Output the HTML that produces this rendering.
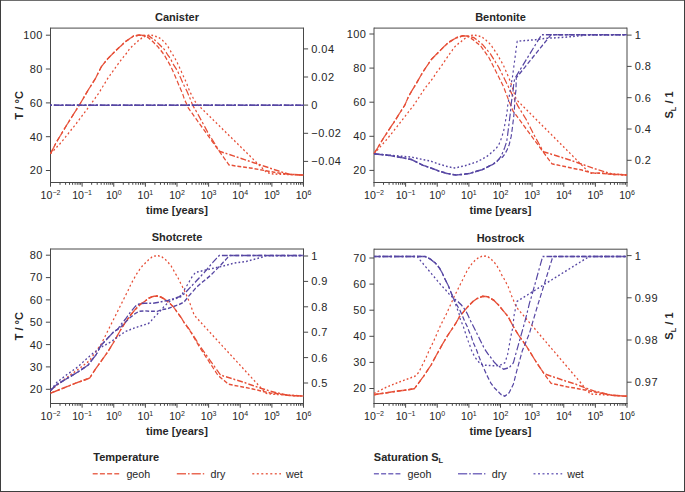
<!DOCTYPE html>
<html><head><meta charset="utf-8"><style>
html,body{margin:0;padding:0;background:#fff;width:685px;height:492px;overflow:hidden}
svg{font-family:"Liberation Sans",sans-serif}
</style></head><body>
<svg width="685" height="492" viewBox="0 0 685 492" style="position:absolute;left:0;top:0">
<rect x="0" y="0" width="685" height="492" fill="#fff"/>
<path d="M0.5 0V492M684.5 0V492M0 491.5H685" stroke="#3e3e3e" stroke-width="1" fill="none"/>
<path d="M1 0.5H684" stroke="#6e6e6e" stroke-width="1" fill="none"/>
<text x="177.0" y="20.5" font-size="11" font-weight="bold" text-anchor="middle" fill="#262626">Canister</text>
<path d="M50.5 28.1H303.5M50.5 27.6V183.0M303.5 27.6V183.0M50.0 182.5H304.0" fill="none" stroke="#484848" stroke-width="1"/>
<path d="M50.50 182.5v4.2M60.02 182.5v2.3M65.59 182.5v2.3M69.54 182.5v2.3M72.60 182.5v2.3M75.11 182.5v2.3M77.23 182.5v2.3M79.06 182.5v2.3M80.68 182.5v2.3M82.12 182.5v4.2M91.65 182.5v2.3M97.21 182.5v2.3M101.17 182.5v2.3M104.23 182.5v2.3M106.73 182.5v2.3M108.85 182.5v2.3M110.69 182.5v2.3M112.30 182.5v2.3M113.75 182.5v4.2M123.27 182.5v2.3M128.84 182.5v2.3M132.79 182.5v2.3M135.85 182.5v2.3M138.36 182.5v2.3M140.48 182.5v2.3M142.31 182.5v2.3M143.93 182.5v2.3M145.38 182.5v4.2M154.90 182.5v2.3M160.46 182.5v2.3M164.42 182.5v2.3M167.48 182.5v2.3M169.98 182.5v2.3M172.10 182.5v2.3M173.94 182.5v2.3M175.55 182.5v2.3M177.00 182.5v4.2M186.52 182.5v2.3M192.09 182.5v2.3M196.04 182.5v2.3M199.10 182.5v2.3M201.61 182.5v2.3M203.73 182.5v2.3M205.56 182.5v2.3M207.18 182.5v2.3M208.62 182.5v4.2M218.15 182.5v2.3M223.71 182.5v2.3M227.67 182.5v2.3M230.73 182.5v2.3M233.23 182.5v2.3M235.35 182.5v2.3M237.19 182.5v2.3M238.80 182.5v2.3M240.25 182.5v4.2M249.77 182.5v2.3M255.34 182.5v2.3M259.29 182.5v2.3M262.35 182.5v2.3M264.86 182.5v2.3M266.98 182.5v2.3M268.81 182.5v2.3M270.43 182.5v2.3M271.88 182.5v4.2M281.40 182.5v2.3M286.96 182.5v2.3M290.92 182.5v2.3M293.98 182.5v2.3M296.48 182.5v2.3M298.60 182.5v2.3M300.44 182.5v2.3M302.05 182.5v2.3M303.50 182.5v4.2" stroke="#484848" stroke-width="1" fill="none"/>
<text x="50.5" y="198.9" font-size="10.6" text-anchor="middle" fill="#262626">10<tspan font-size="7" dy="-4">−2</tspan></text>
<text x="82.1" y="198.9" font-size="10.6" text-anchor="middle" fill="#262626">10<tspan font-size="7" dy="-4">−1</tspan></text>
<text x="113.8" y="198.9" font-size="10.6" text-anchor="middle" fill="#262626">10<tspan font-size="7" dy="-4">0</tspan></text>
<text x="145.4" y="198.9" font-size="10.6" text-anchor="middle" fill="#262626">10<tspan font-size="7" dy="-4">1</tspan></text>
<text x="177.0" y="198.9" font-size="10.6" text-anchor="middle" fill="#262626">10<tspan font-size="7" dy="-4">2</tspan></text>
<text x="208.6" y="198.9" font-size="10.6" text-anchor="middle" fill="#262626">10<tspan font-size="7" dy="-4">3</tspan></text>
<text x="240.2" y="198.9" font-size="10.6" text-anchor="middle" fill="#262626">10<tspan font-size="7" dy="-4">4</tspan></text>
<text x="271.9" y="198.9" font-size="10.6" text-anchor="middle" fill="#262626">10<tspan font-size="7" dy="-4">5</tspan></text>
<text x="303.5" y="198.9" font-size="10.6" text-anchor="middle" fill="#262626">10<tspan font-size="7" dy="-4">6</tspan></text>
<text x="177.0" y="213.6" font-size="11" font-weight="bold" text-anchor="middle" fill="#262626">time [years]</text>
<path d="M45.9 35.2h4.6M45.9 69.0h4.6M45.9 102.9h4.6M45.9 136.7h4.6M45.9 170.5h4.6M303.5 48.9h4.6M303.5 77.0h4.6M303.5 105.1h4.6M303.5 133.3h4.6M303.5 161.4h4.6" stroke="#484848" stroke-width="1" fill="none"/>
<text x="42.9" y="39.1" font-size="11" letter-spacing="0.45" text-anchor="end" fill="#262626">100</text>
<text x="42.9" y="72.9" font-size="11" letter-spacing="0.45" text-anchor="end" fill="#262626">80</text>
<text x="42.9" y="106.8" font-size="11" letter-spacing="0.45" text-anchor="end" fill="#262626">60</text>
<text x="42.9" y="140.6" font-size="11" letter-spacing="0.45" text-anchor="end" fill="#262626">40</text>
<text x="42.9" y="174.4" font-size="11" letter-spacing="0.45" text-anchor="end" fill="#262626">20</text>
<text x="311.3" y="52.8" font-size="11" letter-spacing="0.45" fill="#262626">0.04</text>
<text x="311.3" y="80.9" font-size="11" letter-spacing="0.45" fill="#262626">0.02</text>
<text x="311.3" y="109.0" font-size="11" letter-spacing="0.45" fill="#262626">0</text>
<text x="311.3" y="137.2" font-size="11" letter-spacing="0.45" fill="#262626">−0.02</text>
<text x="311.3" y="165.3" font-size="11" letter-spacing="0.45" fill="#262626">−0.04</text>
<text transform="translate(23.2 105.3) rotate(-90)" font-size="11" font-weight="bold" text-anchor="middle" fill="#262626">T / °C</text>
<text x="500.5" y="20.5" font-size="11" font-weight="bold" text-anchor="middle" fill="#262626">Bentonite</text>
<path d="M374.0 28.1H627.0M374.0 27.6V183.0M627.0 27.6V183.0M373.5 182.5H627.5" fill="none" stroke="#484848" stroke-width="1"/>
<path d="M374.00 182.5v4.2M383.52 182.5v2.3M389.09 182.5v2.3M393.04 182.5v2.3M396.10 182.5v2.3M398.61 182.5v2.3M400.73 182.5v2.3M402.56 182.5v2.3M404.18 182.5v2.3M405.62 182.5v4.2M415.15 182.5v2.3M420.71 182.5v2.3M424.67 182.5v2.3M427.73 182.5v2.3M430.23 182.5v2.3M432.35 182.5v2.3M434.19 182.5v2.3M435.80 182.5v2.3M437.25 182.5v4.2M446.77 182.5v2.3M452.34 182.5v2.3M456.29 182.5v2.3M459.35 182.5v2.3M461.86 182.5v2.3M463.98 182.5v2.3M465.81 182.5v2.3M467.43 182.5v2.3M468.88 182.5v4.2M478.40 182.5v2.3M483.96 182.5v2.3M487.92 182.5v2.3M490.98 182.5v2.3M493.48 182.5v2.3M495.60 182.5v2.3M497.44 182.5v2.3M499.05 182.5v2.3M500.50 182.5v4.2M510.02 182.5v2.3M515.59 182.5v2.3M519.54 182.5v2.3M522.60 182.5v2.3M525.11 182.5v2.3M527.23 182.5v2.3M529.06 182.5v2.3M530.68 182.5v2.3M532.12 182.5v4.2M541.65 182.5v2.3M547.21 182.5v2.3M551.17 182.5v2.3M554.23 182.5v2.3M556.73 182.5v2.3M558.85 182.5v2.3M560.69 182.5v2.3M562.30 182.5v2.3M563.75 182.5v4.2M573.27 182.5v2.3M578.84 182.5v2.3M582.79 182.5v2.3M585.85 182.5v2.3M588.36 182.5v2.3M590.48 182.5v2.3M592.31 182.5v2.3M593.93 182.5v2.3M595.38 182.5v4.2M604.90 182.5v2.3M610.46 182.5v2.3M614.42 182.5v2.3M617.48 182.5v2.3M619.98 182.5v2.3M622.10 182.5v2.3M623.94 182.5v2.3M625.55 182.5v2.3M627.00 182.5v4.2" stroke="#484848" stroke-width="1" fill="none"/>
<text x="374.0" y="198.9" font-size="10.6" text-anchor="middle" fill="#262626">10<tspan font-size="7" dy="-4">−2</tspan></text>
<text x="405.6" y="198.9" font-size="10.6" text-anchor="middle" fill="#262626">10<tspan font-size="7" dy="-4">−1</tspan></text>
<text x="437.2" y="198.9" font-size="10.6" text-anchor="middle" fill="#262626">10<tspan font-size="7" dy="-4">0</tspan></text>
<text x="468.9" y="198.9" font-size="10.6" text-anchor="middle" fill="#262626">10<tspan font-size="7" dy="-4">1</tspan></text>
<text x="500.5" y="198.9" font-size="10.6" text-anchor="middle" fill="#262626">10<tspan font-size="7" dy="-4">2</tspan></text>
<text x="532.1" y="198.9" font-size="10.6" text-anchor="middle" fill="#262626">10<tspan font-size="7" dy="-4">3</tspan></text>
<text x="563.8" y="198.9" font-size="10.6" text-anchor="middle" fill="#262626">10<tspan font-size="7" dy="-4">4</tspan></text>
<text x="595.4" y="198.9" font-size="10.6" text-anchor="middle" fill="#262626">10<tspan font-size="7" dy="-4">5</tspan></text>
<text x="627.0" y="198.9" font-size="10.6" text-anchor="middle" fill="#262626">10<tspan font-size="7" dy="-4">6</tspan></text>
<text x="500.5" y="213.6" font-size="11" font-weight="bold" text-anchor="middle" fill="#262626">time [years]</text>
<path d="M369.4 34.0h4.6M369.4 68.1h4.6M369.4 102.2h4.6M369.4 136.3h4.6M369.4 170.4h4.6M627.0 35.1h4.6M627.0 66.4h4.6M627.0 97.7h4.6M627.0 129.0h4.6M627.0 160.3h4.6" stroke="#484848" stroke-width="1" fill="none"/>
<text x="366.4" y="37.9" font-size="11" letter-spacing="0.45" text-anchor="end" fill="#262626">100</text>
<text x="366.4" y="72.0" font-size="11" letter-spacing="0.45" text-anchor="end" fill="#262626">80</text>
<text x="366.4" y="106.1" font-size="11" letter-spacing="0.45" text-anchor="end" fill="#262626">60</text>
<text x="366.4" y="140.2" font-size="11" letter-spacing="0.45" text-anchor="end" fill="#262626">40</text>
<text x="366.4" y="174.3" font-size="11" letter-spacing="0.45" text-anchor="end" fill="#262626">20</text>
<text x="634.8" y="39.0" font-size="11" letter-spacing="0.45" fill="#262626">1</text>
<text x="634.8" y="70.3" font-size="11" letter-spacing="0.45" fill="#262626">0.8</text>
<text x="634.8" y="101.6" font-size="11" letter-spacing="0.45" fill="#262626">0.6</text>
<text x="634.8" y="132.9" font-size="11" letter-spacing="0.45" fill="#262626">0.4</text>
<text x="634.8" y="164.2" font-size="11" letter-spacing="0.45" fill="#262626">0.2</text>
<text transform="translate(673.2 105.0) rotate(-90)" font-size="11" font-weight="bold" text-anchor="middle" fill="#262626">S<tspan font-size="7.5" dy="2.5">L</tspan><tspan dy="-2.5"> / 1</tspan></text>
<text x="177.0" y="241.4" font-size="11" font-weight="bold" text-anchor="middle" fill="#262626">Shotcrete</text>
<path d="M50.5 249.0H303.5M50.5 248.5V404.0M303.5 248.5V404.0M50.0 403.5H304.0" fill="none" stroke="#484848" stroke-width="1"/>
<path d="M50.50 403.5v4.2M60.02 403.5v2.3M65.59 403.5v2.3M69.54 403.5v2.3M72.60 403.5v2.3M75.11 403.5v2.3M77.23 403.5v2.3M79.06 403.5v2.3M80.68 403.5v2.3M82.12 403.5v4.2M91.65 403.5v2.3M97.21 403.5v2.3M101.17 403.5v2.3M104.23 403.5v2.3M106.73 403.5v2.3M108.85 403.5v2.3M110.69 403.5v2.3M112.30 403.5v2.3M113.75 403.5v4.2M123.27 403.5v2.3M128.84 403.5v2.3M132.79 403.5v2.3M135.85 403.5v2.3M138.36 403.5v2.3M140.48 403.5v2.3M142.31 403.5v2.3M143.93 403.5v2.3M145.38 403.5v4.2M154.90 403.5v2.3M160.46 403.5v2.3M164.42 403.5v2.3M167.48 403.5v2.3M169.98 403.5v2.3M172.10 403.5v2.3M173.94 403.5v2.3M175.55 403.5v2.3M177.00 403.5v4.2M186.52 403.5v2.3M192.09 403.5v2.3M196.04 403.5v2.3M199.10 403.5v2.3M201.61 403.5v2.3M203.73 403.5v2.3M205.56 403.5v2.3M207.18 403.5v2.3M208.62 403.5v4.2M218.15 403.5v2.3M223.71 403.5v2.3M227.67 403.5v2.3M230.73 403.5v2.3M233.23 403.5v2.3M235.35 403.5v2.3M237.19 403.5v2.3M238.80 403.5v2.3M240.25 403.5v4.2M249.77 403.5v2.3M255.34 403.5v2.3M259.29 403.5v2.3M262.35 403.5v2.3M264.86 403.5v2.3M266.98 403.5v2.3M268.81 403.5v2.3M270.43 403.5v2.3M271.88 403.5v4.2M281.40 403.5v2.3M286.96 403.5v2.3M290.92 403.5v2.3M293.98 403.5v2.3M296.48 403.5v2.3M298.60 403.5v2.3M300.44 403.5v2.3M302.05 403.5v2.3M303.50 403.5v4.2" stroke="#484848" stroke-width="1" fill="none"/>
<text x="50.5" y="419.9" font-size="10.6" text-anchor="middle" fill="#262626">10<tspan font-size="7" dy="-4">−2</tspan></text>
<text x="82.1" y="419.9" font-size="10.6" text-anchor="middle" fill="#262626">10<tspan font-size="7" dy="-4">−1</tspan></text>
<text x="113.8" y="419.9" font-size="10.6" text-anchor="middle" fill="#262626">10<tspan font-size="7" dy="-4">0</tspan></text>
<text x="145.4" y="419.9" font-size="10.6" text-anchor="middle" fill="#262626">10<tspan font-size="7" dy="-4">1</tspan></text>
<text x="177.0" y="419.9" font-size="10.6" text-anchor="middle" fill="#262626">10<tspan font-size="7" dy="-4">2</tspan></text>
<text x="208.6" y="419.9" font-size="10.6" text-anchor="middle" fill="#262626">10<tspan font-size="7" dy="-4">3</tspan></text>
<text x="240.2" y="419.9" font-size="10.6" text-anchor="middle" fill="#262626">10<tspan font-size="7" dy="-4">4</tspan></text>
<text x="271.9" y="419.9" font-size="10.6" text-anchor="middle" fill="#262626">10<tspan font-size="7" dy="-4">5</tspan></text>
<text x="303.5" y="419.9" font-size="10.6" text-anchor="middle" fill="#262626">10<tspan font-size="7" dy="-4">6</tspan></text>
<text x="177.0" y="434.6" font-size="11" font-weight="bold" text-anchor="middle" fill="#262626">time [years]</text>
<path d="M45.9 255.2h4.6M45.9 277.6h4.6M45.9 299.9h4.6M45.9 322.2h4.6M45.9 344.6h4.6M45.9 366.9h4.6M45.9 389.3h4.6M303.5 256.0h4.6M303.5 281.4h4.6M303.5 306.8h4.6M303.5 332.2h4.6M303.5 357.6h4.6M303.5 383.0h4.6" stroke="#484848" stroke-width="1" fill="none"/>
<text x="42.9" y="259.1" font-size="11" letter-spacing="0.45" text-anchor="end" fill="#262626">80</text>
<text x="42.9" y="281.4" font-size="11" letter-spacing="0.45" text-anchor="end" fill="#262626">70</text>
<text x="42.9" y="303.8" font-size="11" letter-spacing="0.45" text-anchor="end" fill="#262626">60</text>
<text x="42.9" y="326.1" font-size="11" letter-spacing="0.45" text-anchor="end" fill="#262626">50</text>
<text x="42.9" y="348.5" font-size="11" letter-spacing="0.45" text-anchor="end" fill="#262626">40</text>
<text x="42.9" y="370.8" font-size="11" letter-spacing="0.45" text-anchor="end" fill="#262626">30</text>
<text x="42.9" y="393.2" font-size="11" letter-spacing="0.45" text-anchor="end" fill="#262626">20</text>
<text x="311.3" y="259.9" font-size="11" letter-spacing="0.45" fill="#262626">1</text>
<text x="311.3" y="285.3" font-size="11" letter-spacing="0.45" fill="#262626">0.9</text>
<text x="311.3" y="310.7" font-size="11" letter-spacing="0.45" fill="#262626">0.8</text>
<text x="311.3" y="336.1" font-size="11" letter-spacing="0.45" fill="#262626">0.7</text>
<text x="311.3" y="361.5" font-size="11" letter-spacing="0.45" fill="#262626">0.6</text>
<text x="311.3" y="386.9" font-size="11" letter-spacing="0.45" fill="#262626">0.5</text>
<text transform="translate(23.2 326.2) rotate(-90)" font-size="11" font-weight="bold" text-anchor="middle" fill="#262626">T / °C</text>
<text x="500.5" y="241.6" font-size="11" font-weight="bold" text-anchor="middle" fill="#262626">Hostrock</text>
<path d="M374.0 249.2H627.0M374.0 248.7V404.0M627.0 248.7V404.0M373.5 403.5H627.5" fill="none" stroke="#484848" stroke-width="1"/>
<path d="M374.00 403.5v4.2M383.52 403.5v2.3M389.09 403.5v2.3M393.04 403.5v2.3M396.10 403.5v2.3M398.61 403.5v2.3M400.73 403.5v2.3M402.56 403.5v2.3M404.18 403.5v2.3M405.62 403.5v4.2M415.15 403.5v2.3M420.71 403.5v2.3M424.67 403.5v2.3M427.73 403.5v2.3M430.23 403.5v2.3M432.35 403.5v2.3M434.19 403.5v2.3M435.80 403.5v2.3M437.25 403.5v4.2M446.77 403.5v2.3M452.34 403.5v2.3M456.29 403.5v2.3M459.35 403.5v2.3M461.86 403.5v2.3M463.98 403.5v2.3M465.81 403.5v2.3M467.43 403.5v2.3M468.88 403.5v4.2M478.40 403.5v2.3M483.96 403.5v2.3M487.92 403.5v2.3M490.98 403.5v2.3M493.48 403.5v2.3M495.60 403.5v2.3M497.44 403.5v2.3M499.05 403.5v2.3M500.50 403.5v4.2M510.02 403.5v2.3M515.59 403.5v2.3M519.54 403.5v2.3M522.60 403.5v2.3M525.11 403.5v2.3M527.23 403.5v2.3M529.06 403.5v2.3M530.68 403.5v2.3M532.12 403.5v4.2M541.65 403.5v2.3M547.21 403.5v2.3M551.17 403.5v2.3M554.23 403.5v2.3M556.73 403.5v2.3M558.85 403.5v2.3M560.69 403.5v2.3M562.30 403.5v2.3M563.75 403.5v4.2M573.27 403.5v2.3M578.84 403.5v2.3M582.79 403.5v2.3M585.85 403.5v2.3M588.36 403.5v2.3M590.48 403.5v2.3M592.31 403.5v2.3M593.93 403.5v2.3M595.38 403.5v4.2M604.90 403.5v2.3M610.46 403.5v2.3M614.42 403.5v2.3M617.48 403.5v2.3M619.98 403.5v2.3M622.10 403.5v2.3M623.94 403.5v2.3M625.55 403.5v2.3M627.00 403.5v4.2" stroke="#484848" stroke-width="1" fill="none"/>
<text x="374.0" y="419.9" font-size="10.6" text-anchor="middle" fill="#262626">10<tspan font-size="7" dy="-4">−2</tspan></text>
<text x="405.6" y="419.9" font-size="10.6" text-anchor="middle" fill="#262626">10<tspan font-size="7" dy="-4">−1</tspan></text>
<text x="437.2" y="419.9" font-size="10.6" text-anchor="middle" fill="#262626">10<tspan font-size="7" dy="-4">0</tspan></text>
<text x="468.9" y="419.9" font-size="10.6" text-anchor="middle" fill="#262626">10<tspan font-size="7" dy="-4">1</tspan></text>
<text x="500.5" y="419.9" font-size="10.6" text-anchor="middle" fill="#262626">10<tspan font-size="7" dy="-4">2</tspan></text>
<text x="532.1" y="419.9" font-size="10.6" text-anchor="middle" fill="#262626">10<tspan font-size="7" dy="-4">3</tspan></text>
<text x="563.8" y="419.9" font-size="10.6" text-anchor="middle" fill="#262626">10<tspan font-size="7" dy="-4">4</tspan></text>
<text x="595.4" y="419.9" font-size="10.6" text-anchor="middle" fill="#262626">10<tspan font-size="7" dy="-4">5</tspan></text>
<text x="627.0" y="419.9" font-size="10.6" text-anchor="middle" fill="#262626">10<tspan font-size="7" dy="-4">6</tspan></text>
<text x="500.5" y="434.6" font-size="11" font-weight="bold" text-anchor="middle" fill="#262626">time [years]</text>
<path d="M369.4 258.0h4.6M369.4 284.1h4.6M369.4 310.2h4.6M369.4 336.3h4.6M369.4 362.4h4.6M369.4 388.5h4.6M627.0 255.6h4.6M627.0 297.8h4.6M627.0 340.0h4.6M627.0 382.2h4.6" stroke="#484848" stroke-width="1" fill="none"/>
<text x="366.4" y="261.9" font-size="11" letter-spacing="0.45" text-anchor="end" fill="#262626">70</text>
<text x="366.4" y="288.0" font-size="11" letter-spacing="0.45" text-anchor="end" fill="#262626">60</text>
<text x="366.4" y="314.1" font-size="11" letter-spacing="0.45" text-anchor="end" fill="#262626">50</text>
<text x="366.4" y="340.2" font-size="11" letter-spacing="0.45" text-anchor="end" fill="#262626">40</text>
<text x="366.4" y="366.3" font-size="11" letter-spacing="0.45" text-anchor="end" fill="#262626">30</text>
<text x="366.4" y="392.4" font-size="11" letter-spacing="0.45" text-anchor="end" fill="#262626">20</text>
<text x="634.8" y="259.5" font-size="11" letter-spacing="0.45" fill="#262626">1</text>
<text x="634.8" y="301.7" font-size="11" letter-spacing="0.45" fill="#262626">0.99</text>
<text x="634.8" y="343.9" font-size="11" letter-spacing="0.45" fill="#262626">0.98</text>
<text x="634.8" y="386.1" font-size="11" letter-spacing="0.45" fill="#262626">0.97</text>
<text transform="translate(673.2 326.1) rotate(-90)" font-size="11" font-weight="bold" text-anchor="middle" fill="#262626">S<tspan font-size="7.5" dy="2.5">L</tspan><tspan dy="-2.5"> / 1</tspan></text>
<g transform="scale(1,1.3)"><path d="M50.50 118.23 L56.10 109.77 L67.10 95.69 L80.00 80.00 L87.60 70.00 L95.30 60.62 L101.40 51.23 L107.50 45.38 L116.60 38.31 L125.80 31.85 L133.40 27.77 L139.50 26.92 L146.00 27.69 L148.50 29.15 L153.40 32.46 L157.70 35.77 L161.20 39.15 L164.00 42.00 L167.60 46.69 L171.00 51.38 L174.90 58.15 L176.70 61.46 L179.50 66.62 L182.50 71.77 L184.60 76.92 L186.20 79.23 L188.00 82.69 L229.00 126.92 L250.00 129.15 L280.00 133.23 L289.30 134.08 L303.30 134.69" stroke="#e64e36" stroke-width="1.15" stroke-dasharray="3.85 1.9" fill="none" stroke-linejoin="round"/>
<path d="M50.50 118.23 L56.10 109.77 L67.10 95.69 L80.00 80.00 L87.60 70.00 L95.30 60.62 L101.40 51.23 L107.50 45.38 L116.60 38.31 L125.80 31.85 L133.40 27.77 L139.50 26.92 L146.00 27.38 L149.10 27.77 L155.20 31.08 L159.50 34.31 L164.40 38.08 L167.40 41.85 L170.40 45.00 L173.40 49.69 L177.40 54.38 L180.40 59.54 L182.80 63.77 L184.60 66.62 L186.80 69.92 L188.90 73.62 L190.70 76.92 L192.60 80.85 L197.20 86.85 L202.70 94.62 L208.70 103.08 L219.50 116.31 L280.00 131.92 L289.30 134.08 L303.30 134.69" stroke="#e64e36" stroke-width="1.15" stroke-dasharray="5.8 1.8 1.9 2" fill="none" stroke-linejoin="round"/>
<path d="M50.50 118.23 L61.00 109.77 L75.60 95.69 L91.00 80.00 L99.20 71.15 L107.50 60.62 L116.60 50.77 L121.60 45.62 L124.60 42.77 L127.10 40.46 L129.50 37.62 L133.20 34.77 L136.20 32.92 L139.30 30.62 L143.00 28.69 L146.10 27.54 L149.80 26.85 L154.00 27.54 L157.70 28.46 L161.30 30.08 L164.40 32.46 L167.10 34.77 L169.30 37.62 L171.90 41.08 L174.30 43.85 L176.50 47.15 L178.60 50.38 L180.70 53.92 L182.80 57.69 L184.60 60.54 L186.50 63.77 L188.30 67.54 L190.10 70.85 L192.30 74.08 L194.40 77.38 L197.20 80.15 L266.70 132.62 L273.20 133.85 L289.30 134.23 L303.30 134.69" stroke="#e64e36" stroke-width="1.15" stroke-dasharray="1.7 2.133" fill="none" stroke-linejoin="round"/>
<path d="M50.50 81.00 L303.50 81.00" stroke="#5646a3" stroke-width="1.15" stroke-dasharray="3.85 1.9" stroke-dashoffset="-3.4" fill="none" stroke-linejoin="round"/>
<path d="M50.50 81.00 L303.50 81.00" stroke="#5646a3" stroke-width="1.15" stroke-dasharray="5.8 1.8 1.9 2" stroke-dashoffset="-3.4" fill="none" stroke-linejoin="round"/>
<path d="M50.50 81.00 L303.50 81.00" stroke="#5646a3" stroke-width="1.15" stroke-dasharray="1.7 2.133" stroke-dashoffset="-3.4" fill="none" stroke-linejoin="round"/>
<path d="M374.00 118.31 L383.80 105.85 L393.50 94.54 L404.90 80.77 L408.60 74.15 L413.10 68.23 L416.20 64.38 L420.20 58.92 L423.30 55.00 L427.30 50.31 L431.40 45.62 L435.50 42.46 L439.50 39.38 L444.60 35.46 L448.10 32.85 L456.30 29.08 L462.80 27.54 L467.70 27.77 L472.60 30.31 L480.70 35.31 L488.80 44.08 L497.00 56.62 L503.50 66.62 L508.40 76.62 L513.00 85.31 L551.90 126.00 L569.00 128.85 L582.00 130.85 L591.10 132.85 L601.50 133.31 L613.20 134.15 L626.70 134.54" stroke="#e64e36" stroke-width="1.15" stroke-dasharray="3.85 1.9" fill="none" stroke-linejoin="round"/>
<path d="M374.00 118.31 L383.80 105.85 L393.50 94.54 L404.90 80.77 L408.60 74.15 L413.10 68.23 L416.20 64.38 L420.20 58.92 L423.30 55.00 L427.30 50.31 L431.40 45.62 L435.50 42.46 L439.50 39.38 L444.60 35.46 L448.10 32.85 L456.30 29.08 L462.80 27.54 L468.50 27.92 L474.20 29.08 L482.30 34.08 L490.50 41.54 L498.60 51.62 L506.70 64.08 L511.40 71.54 L517.90 81.54 L526.00 91.62 L534.20 104.08 L543.40 116.69 L569.00 122.85 L582.00 126.31 L595.00 129.85 L605.40 132.31 L613.20 134.15 L626.70 134.54" stroke="#e64e36" stroke-width="1.15" stroke-dasharray="5.8 1.8 1.9 2" fill="none" stroke-linejoin="round"/>
<path d="M374.00 118.31 L387.00 107.08 L400.00 94.54 L413.90 80.77 L419.60 74.15 L425.30 67.54 L429.40 63.62 L433.40 59.69 L436.50 55.77 L440.50 51.85 L444.60 47.15 L449.10 41.92 L451.40 39.69 L453.80 36.77 L456.70 34.54 L460.20 32.54 L463.70 30.23 L467.00 28.62 L470.00 27.54 L473.60 26.92 L477.10 27.31 L481.20 28.23 L484.10 29.62 L490.50 34.08 L497.00 41.54 L503.50 50.31 L510.00 62.00 L516.30 76.54 L590.00 133.31 L601.50 133.31 L612.00 133.85 L626.70 134.54" stroke="#e64e36" stroke-width="1.15" stroke-dasharray="1.7 2.133" fill="none" stroke-linejoin="round"/>
<path d="M374.00 118.31 L390.30 119.62 L411.40 122.69 L422.80 127.08 L430.90 129.23 L438.80 131.54 L447.50 133.54 L456.30 134.62 L465.00 133.92 L470.00 133.38 L476.50 131.77 L482.20 130.54 L487.90 128.31 L492.80 126.46 L496.80 124.23 L499.30 122.08 L501.00 120.23 L503.20 116.54 L504.80 113.31 L506.70 108.85 L507.70 103.38 L508.70 97.15 L509.70 90.85 L510.70 84.77 L511.10 80.38 L511.90 76.00 L512.30 73.54 L513.20 69.15 L513.60 65.38 L514.40 61.62 L515.20 59.85 L538.50 30.54 L541.60 26.77 L627.00 26.77" stroke="#5646a3" stroke-width="1.15" stroke-dasharray="5.8 1.8 1.9 2" fill="none" stroke-linejoin="round"/>
<path d="M374.00 118.31 L390.30 119.62 L411.40 122.69 L422.80 127.08 L430.90 129.23 L438.80 131.54 L447.50 133.54 L456.30 134.62 L465.00 133.92 L470.00 133.38 L476.50 131.77 L482.20 130.54 L487.90 128.31 L492.80 126.46 L496.80 124.23 L499.30 122.08 L502.50 120.85 L505.00 118.31 L507.20 115.08 L509.20 111.23 L511.20 104.92 L512.30 98.69 L513.30 92.46 L514.30 85.38 L514.80 77.92 L515.20 73.54 L516.00 69.15 L516.10 64.77 L516.30 59.85 L551.00 26.77 L627.00 26.77" stroke="#5646a3" stroke-width="1.15" stroke-dasharray="3.85 1.9" fill="none" stroke-linejoin="round"/>
<path d="M374.00 118.31 L411.40 120.85 L422.80 122.69 L430.00 123.77 L438.80 126.15 L447.50 128.15 L454.50 129.23 L465.00 127.54 L471.60 125.85 L476.50 124.62 L482.20 122.38 L487.10 120.23 L492.00 117.08 L496.00 114.23 L498.50 111.77 L500.50 108.31 L501.60 105.69 L503.60 101.00 L505.10 94.77 L506.20 90.08 L507.20 85.38 L507.50 82.31 L508.30 78.54 L509.10 74.77 L509.90 70.69 L510.70 66.92 L511.50 63.23 L512.40 59.62 L517.20 31.69 L536.00 30.54 L541.60 29.77 L550.00 29.31 L559.40 28.92 L568.70 28.38 L578.00 27.62 L587.40 26.92 L627.00 26.77" stroke="#5646a3" stroke-width="1.15" stroke-dasharray="1.7 2.133" fill="none" stroke-linejoin="round"/>
<path d="M50.60 302.38 L63.40 298.54 L75.70 294.69 L89.50 290.92 L96.20 283.08 L101.80 277.08 L107.40 271.08 L113.00 264.15 L120.20 254.31 L125.20 248.08 L130.30 242.62 L135.40 237.92 L140.50 234.00 L145.00 231.69 L149.10 229.23 L153.10 228.00 L157.20 227.69 L161.30 228.62 L165.30 230.46 L169.40 233.00 L173.50 236.15 L177.50 240.46 L181.60 244.85 L184.00 248.00 L189.80 254.23 L199.30 266.69 L208.60 277.62 L217.90 288.69 L228.70 295.62 L244.00 297.85 L252.80 299.23 L261.50 300.85 L270.30 302.23 L280.80 303.23 L289.50 304.23 L303.50 304.62" stroke="#e64e36" stroke-width="1.15" stroke-dasharray="3.85 1.9" fill="none" stroke-linejoin="round"/>
<path d="M50.60 302.38 L63.40 298.54 L75.70 294.69 L89.50 290.92 L96.20 283.08 L101.80 277.08 L107.40 271.08 L113.00 264.15 L120.20 254.31 L125.20 248.08 L130.30 242.62 L135.40 237.92 L140.50 234.00 L145.00 231.69 L149.10 229.23 L153.10 228.00 L157.20 227.69 L161.30 228.62 L165.30 230.46 L169.40 233.00 L173.50 236.15 L177.50 240.46 L181.60 244.85 L184.00 248.00 L190.20 254.23 L200.30 266.69 L210.50 277.62 L220.60 288.54 L244.00 294.15 L252.80 296.54 L261.50 298.85 L270.30 300.85 L280.80 302.92 L289.50 304.23 L303.50 304.62" stroke="#e64e36" stroke-width="1.15" stroke-dasharray="5.8 1.8 1.9 2" fill="none" stroke-linejoin="round"/>
<path d="M50.60 300.23 L66.80 290.38 L78.00 284.23 L89.10 277.69 L101.30 264.54 L110.00 251.15 L115.10 243.38 L120.20 235.54 L125.20 227.77 L128.30 223.08 L131.00 218.46 L136.40 211.00 L140.00 206.85 L142.40 204.54 L145.50 202.15 L148.50 199.85 L151.60 197.92 L154.60 197.00 L158.30 196.77 L162.00 197.69 L165.00 199.31 L168.00 201.69 L171.10 204.54 L173.20 207.31 L175.40 210.38 L177.80 213.38 L180.00 216.92 L185.60 225.38 L190.00 233.46 L194.20 242.46 L265.90 302.54 L272.90 303.23 L280.80 303.54 L303.50 304.62" stroke="#e64e36" stroke-width="1.15" stroke-dasharray="1.7 2.133" fill="none" stroke-linejoin="round"/>
<path d="M50.60 300.23 L56.70 295.92 L66.80 291.23 L78.00 286.08 L88.00 280.92 L91.70 277.08 L96.20 272.77 L100.70 265.92 L107.40 260.38 L113.00 255.77 L118.00 253.08 L120.20 250.38 L125.20 245.69 L130.30 240.23 L135.40 235.54 L139.40 233.62 L144.50 233.23 L153.10 233.31 L161.30 232.08 L167.80 231.08 L173.50 229.85 L179.10 228.31 L184.20 226.00 L194.20 217.85 L205.60 208.46 L212.70 201.92 L219.10 196.62 L303.50 196.62" stroke="#5646a3" stroke-width="1.15" stroke-dasharray="5.8 1.8 1.9 2" fill="none" stroke-linejoin="round"/>
<path d="M50.60 300.23 L56.70 295.92 L66.80 291.23 L78.00 286.08 L88.00 280.92 L91.70 277.08 L96.20 272.77 L100.70 265.92 L107.40 260.38 L113.00 255.77 L118.00 253.08 L120.20 252.00 L125.20 248.08 L130.30 244.15 L135.40 241.08 L139.40 239.46 L144.50 239.08 L150.00 239.46 L157.20 239.54 L161.30 238.31 L167.80 237.38 L173.50 235.77 L179.10 234.23 L184.00 232.38 L188.60 227.92 L195.70 221.62 L200.00 218.54 L209.90 212.31 L218.40 205.77 L227.70 198.08 L229.80 196.62 L303.50 196.62" stroke="#5646a3" stroke-width="1.15" stroke-dasharray="3.85 1.9" fill="none" stroke-linejoin="round"/>
<path d="M50.60 300.23 L56.70 294.23 L66.80 288.23 L78.00 282.15 L85.00 277.08 L92.80 271.92 L101.80 266.77 L110.70 263.08 L116.10 260.00 L125.20 255.08 L135.40 252.00 L143.50 250.00 L147.40 249.23 L150.00 248.08 L153.10 244.85 L158.80 240.46 L163.70 236.15 L167.80 233.00 L171.80 230.77 L177.50 229.23 L181.60 228.00 L183.40 224.00 L187.90 218.46 L192.40 212.46 L195.70 209.46 L203.50 208.15 L219.80 205.23 L234.10 202.46 L246.20 201.08 L262.40 197.77 L265.60 196.77 L303.50 196.62" stroke="#5646a3" stroke-width="1.15" stroke-dasharray="1.7 2.133" fill="none" stroke-linejoin="round"/>
<path d="M374.00 303.62 L387.00 302.08 L400.00 300.62 L414.30 299.08 L423.50 289.54 L431.30 280.54 L434.00 276.54 L442.00 265.38 L447.00 258.85 L452.20 252.92 L456.10 248.31 L459.30 243.77 L462.60 240.77 L465.60 237.85 L469.10 234.85 L473.10 231.77 L476.60 229.85 L482.70 227.92 L487.80 228.31 L493.90 231.00 L498.90 234.92 L503.00 238.85 L508.00 243.46 L513.30 251.15 L518.50 257.69 L527.10 267.15 L535.60 277.69 L544.10 287.54 L551.00 294.77 L567.00 297.54 L575.90 298.62 L584.90 300.00 L593.80 301.38 L602.80 302.69 L611.70 304.08 L627.00 304.77" stroke="#e64e36" stroke-width="1.15" stroke-dasharray="3.85 1.9" fill="none" stroke-linejoin="round"/>
<path d="M374.00 303.62 L387.00 302.08 L400.00 300.62 L414.30 299.08 L423.50 289.54 L431.30 280.54 L434.00 276.54 L442.00 265.38 L447.00 258.85 L452.20 252.92 L456.10 248.31 L459.30 243.77 L462.60 240.77 L465.60 237.85 L469.10 234.85 L473.10 231.77 L476.60 229.85 L482.70 227.92 L487.80 228.31 L493.90 231.00 L498.90 234.92 L503.00 238.85 L508.00 243.46 L513.30 251.15 L518.50 257.69 L527.10 267.15 L535.60 277.69 L544.10 287.54 L567.00 293.46 L575.90 295.54 L584.90 298.23 L593.80 300.69 L602.80 302.38 L611.70 304.08 L627.00 304.77" stroke="#e64e36" stroke-width="1.15" stroke-dasharray="5.8 1.8 1.9 2" fill="none" stroke-linejoin="round"/>
<path d="M374.00 302.62 L387.00 297.62 L400.00 293.62 L414.90 289.46 L418.50 286.69 L422.20 281.08 L425.90 275.38 L429.50 268.85 L433.20 263.23 L438.00 254.77 L440.50 250.38 L446.30 241.62 L454.40 227.85 L461.50 216.92 L465.00 211.54 L466.80 208.69 L469.00 205.92 L471.70 203.08 L474.80 200.54 L477.80 198.62 L481.50 197.23 L485.10 197.00 L488.80 197.92 L491.80 199.85 L494.90 202.38 L497.30 205.00 L499.80 208.23 L501.60 211.31 L504.00 214.38 L508.10 220.38 L511.60 227.54 L515.70 235.08 L517.50 237.31 L590.30 303.08 L598.30 303.38 L605.50 303.77 L627.00 304.77" stroke="#e64e36" stroke-width="1.15" stroke-dasharray="1.7 2.133" fill="none" stroke-linejoin="round"/>
<path d="M374.00 197.23 L425.30 197.38 L430.40 199.31 L435.50 202.46 L439.60 206.38 L442.50 210.38 L444.40 213.85 L446.90 217.62 L448.50 220.08 L450.10 223.23 L451.80 226.38 L453.40 229.46 L457.50 231.69 L461.30 234.54 L464.10 237.31 L467.00 240.92 L470.70 247.00 L474.00 252.00 L477.20 257.00 L479.60 260.77 L481.30 263.31 L484.50 268.31 L487.80 272.08 L491.00 275.23 L493.90 278.31 L497.00 280.77 L503.50 284.00 L509.20 282.85 L513.40 279.08 L515.50 273.08 L521.40 256.92 L524.60 248.15 L527.10 240.69 L529.50 233.15 L531.50 228.15 L542.70 197.23 L627.00 197.23" stroke="#5646a3" stroke-width="1.15" stroke-dasharray="5.8 1.8 1.9 2" stroke-dashoffset="3.0" fill="none" stroke-linejoin="round"/>
<path d="M374.00 197.23 L425.30 197.38 L430.40 199.31 L435.50 202.46 L439.60 206.38 L442.50 210.38 L444.40 213.85 L446.90 217.62 L448.50 220.08 L450.10 223.23 L451.80 226.38 L453.40 229.46 L456.60 234.23 L460.10 238.92 L462.60 243.31 L465.00 247.69 L467.40 251.38 L469.10 255.15 L471.10 258.31 L473.10 263.31 L476.40 268.92 L478.80 273.92 L481.70 279.62 L484.50 284.62 L487.50 289.62 L490.60 294.38 L494.00 298.08 L497.80 301.00 L501.00 303.46 L504.90 304.77 L509.20 302.08 L513.40 295.46 L516.20 286.92 L522.30 269.85 L529.50 256.31 L532.80 247.54 L535.20 241.31 L537.60 235.08 L540.90 226.92 L552.90 197.23 L627.00 197.23" stroke="#5646a3" stroke-width="1.15" stroke-dasharray="3.85 1.9" stroke-dashoffset="3.0" fill="none" stroke-linejoin="round"/>
<path d="M374.00 197.23 L417.20 197.23 L420.20 200.15 L425.30 204.85 L430.40 209.54 L435.50 214.23 L440.60 218.92 L442.00 220.08 L445.30 222.62 L447.70 225.08 L450.90 227.62 L453.40 229.46 L455.30 233.31 L456.90 237.00 L458.90 240.77 L460.10 245.15 L461.80 248.31 L463.40 251.38 L465.00 255.15 L466.60 258.92 L468.30 262.69 L469.90 265.85 L471.50 269.54 L473.50 272.69 L476.00 275.85 L478.80 278.62 L481.30 280.23 L485.30 280.92 L489.40 281.15 L493.50 281.31 L499.20 281.23 L504.90 279.08 L507.70 272.46 L510.70 259.23 L512.70 252.31 L514.10 242.54 L516.90 231.92 L589.40 197.23 L627.00 197.23" stroke="#5646a3" stroke-width="1.15" stroke-dasharray="1.7 2.133" stroke-dashoffset="3.0" fill="none" stroke-linejoin="round"/></g>
<text x="93.3" y="460.5" font-size="11" font-weight="bold" fill="#262626">Temperature</text>
<text x="373.8" y="460.5" font-size="11" font-weight="bold" fill="#262626">Saturation S<tspan font-size="7.5" dy="2.5">L</tspan></text>
<path d="M92.7 473.7H119.2" stroke="#ea6a55" stroke-width="1.4" stroke-dasharray="5 2.2" fill="none"/>
<path d="M176.8 473.7H204.2" stroke="#ea6a55" stroke-width="1.4" stroke-dasharray="9.2 2 1.6 2" fill="none"/>
<path d="M252.3 473.7H281" stroke="#ea6a55" stroke-width="1.4" stroke-dasharray="2 2.5" fill="none"/>
<text x="126.4" y="477.5" font-size="10.7" fill="#262626">geoh</text>
<text x="210.6" y="477.5" font-size="10.7" fill="#262626">dry</text>
<text x="286" y="477.5" font-size="10.7" fill="#262626">wet</text>
<path d="M373.9 473.7H400.4" stroke="#7b6fc0" stroke-width="1.4" stroke-dasharray="5 2.2" fill="none"/>
<path d="M458.0 473.7H485.4" stroke="#7b6fc0" stroke-width="1.4" stroke-dasharray="9.2 2 1.6 2" fill="none"/>
<path d="M533.5 473.7H562.2" stroke="#7b6fc0" stroke-width="1.4" stroke-dasharray="2 2.5" fill="none"/>
<text x="407.6" y="477.5" font-size="10.7" fill="#262626">geoh</text>
<text x="491.79999999999995" y="477.5" font-size="10.7" fill="#262626">dry</text>
<text x="567.2" y="477.5" font-size="10.7" fill="#262626">wet</text>
</svg>
</body></html>
